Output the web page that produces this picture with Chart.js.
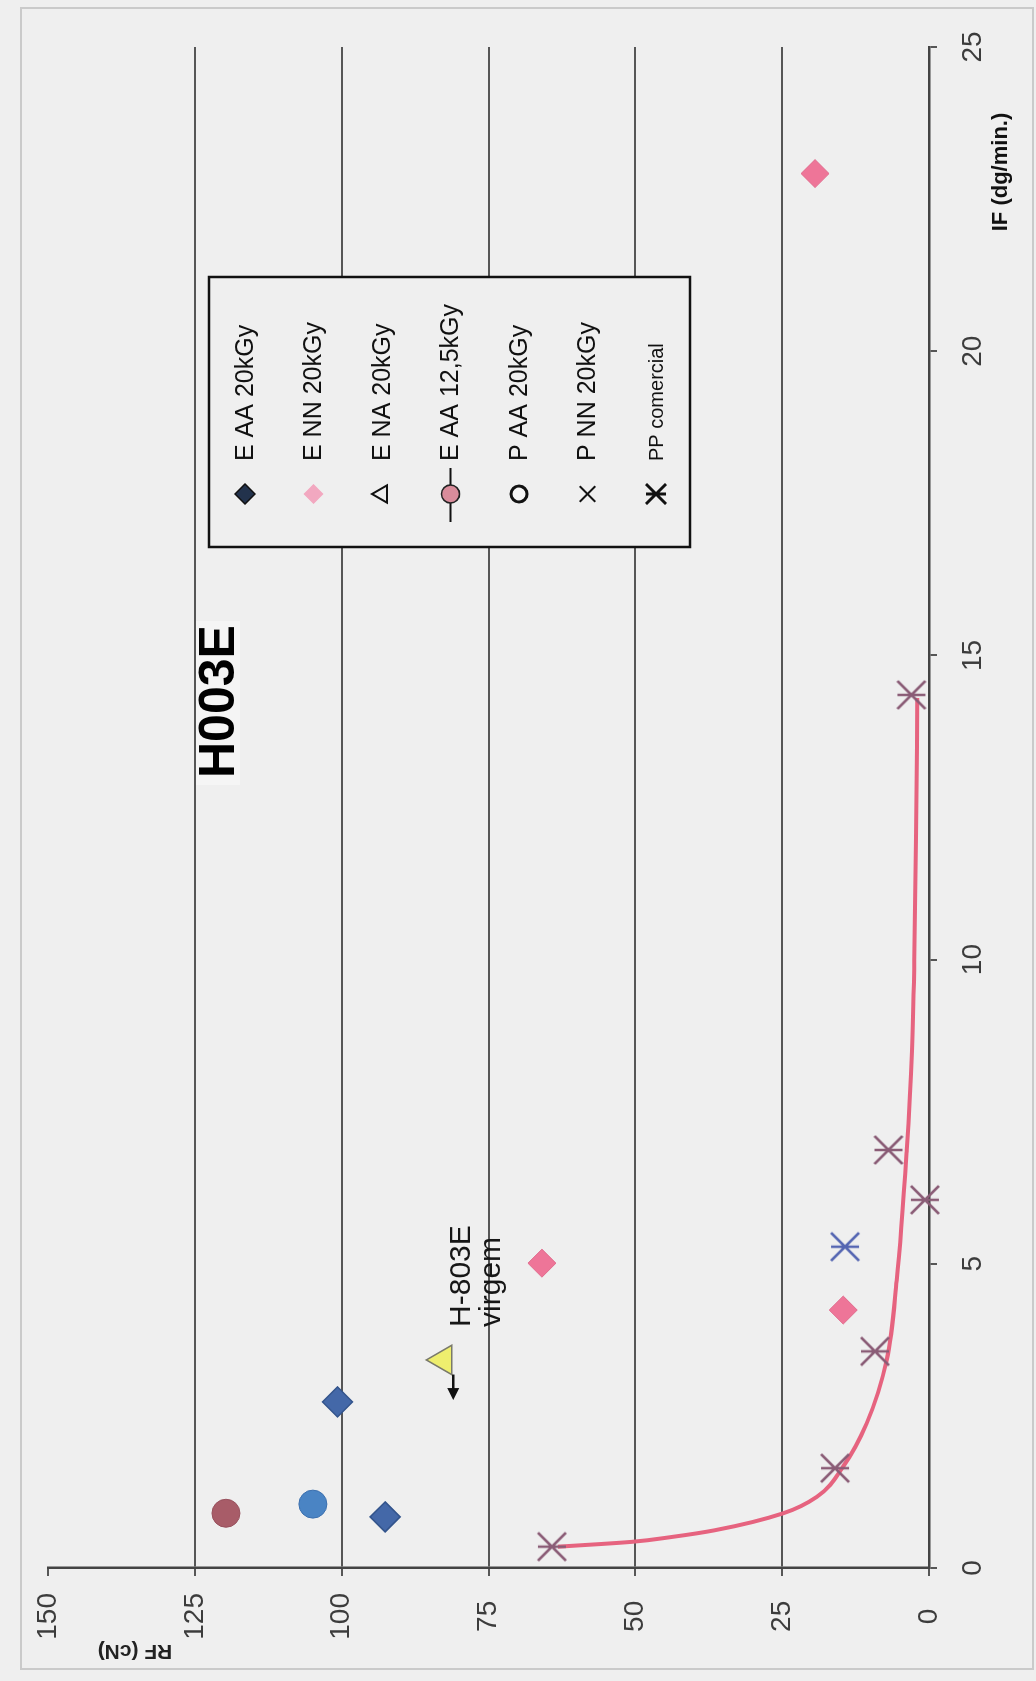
<!DOCTYPE html>
<html lang="pt">
<head>
<meta charset="utf-8">
<title>H003E</title>
<script src="https://cdn.jsdelivr.net/npm/chart.js@4.4.1/dist/chart.umd.min.js"></script>
<style>
  html, body { margin: 0; padding: 0; background: #efefef; width: 1036px; height: 1681px; overflow: hidden; }
  #moldura { position: absolute; left: 20px; top: 7px; width: 1014px; height: 1663px; border: 2px solid #cacaca; box-sizing: border-box; }
  /* o gráfico é desenhado deitado e girado 90° */
  #girado { position: absolute; left: 0; top: 0; width: 1681px; height: 1036px; transform-origin: 0 0; transform: translateY(1681px) rotate(-90deg); }
</style>
</head>
<body>
<div id="moldura"></div>
<div id="girado"><canvas id="grafico" width="1681" height="1036"></canvas></div>
<script>
// Eixos
const ifTicks = [0, 5, 10, 15, 20, 25];
const rfTicks = [0, 25, 50, 75, 100, 125, 150];

// E AA 20kGy
const eAA20_IF = [0.84, 2.73];
const eAA20_RF = [92.6, 100.7];
// E NN 20kGy
const eNN20_IF = [4.24, 5.01, 22.92];
const eNN20_RF = [14.6, 65.9, 19.4];
// E NA 20kGy (H-803E virgem)
const eNA20_IF = [3.42];
const eNA20_RF = [82.7];
// E AA 12,5kGy
const eAA125_IF = [0.90];
const eAA125_RF = [119.7];
// P AA 20kGy
const pAA20_IF = [1.05];
const pAA20_RF = [104.9];
// P NN 20kGy
const pNN20_IF = [5.28];
const pNN20_RF = [14.3];
// PP comercial
const ppCom_IF = [0.35, 1.64, 3.56, 6.05, 6.87, 14.35];
const ppCom_RF = [64.2, 16.0, 9.2, 0.7, 6.9, 3.0];
// curva de tendência do PP comercial
const tendIF = [0.35, 0.43, 0.51, 0.62, 0.90, 1.17, 1.67, 2.38, 3.42, 4.73, 6.87, 8.5, 10, 12, 14.3];
const tendRF = [63.2, 50.6, 43.8, 36.5, 24.8, 19.1, 14.6, 10.6, 7.2, 5.5, 3.8, 2.9, 2.5, 2.2, 2.0];
// seta da amostra virgem
const setaIF = [3.18, 2.76];
const setaRF = [81.0, 81.0];

const FONTE = "'Liberation Sans', Arial, sans-serif";
Chart.defaults.font.family = FONTE;

const pontos = (xs, ys) => xs.map((v, i) => ({ x: v, y: ys[i] }));

// marcador estrela (x com barra vertical)
function estrela(cor, tam, esp) {
    const c = document.createElement('canvas');
    c.width = tam + 6; c.height = tam + 6;
    const g = c.getContext('2d');
    const m = c.width / 2, r = tam / 2;
    g.strokeStyle = cor;
    g.lineWidth = esp;
    g.beginPath();
    g.moveTo(m - r, m - r); g.lineTo(m + r, m + r);
    g.moveTo(m + r, m - r); g.lineTo(m - r, m + r);
    g.moveTo(m, m - r); g.lineTo(m, m + r);
    g.stroke();
    return c;
}

// legenda dentro da área do gráfico
const legendaCaixa = {
    id: 'legendaCaixa',
    afterDatasetsDraw(chart) {
        const ctx = chart.ctx;
        const L = 1134, T = 209, W = 270, H = 481;
        ctx.save();
        ctx.fillStyle = '#efefef';
        ctx.fillRect(L, T, W, H);
        ctx.strokeStyle = '#111';
        ctx.lineWidth = 2.5;
        ctx.strokeRect(L, T, W, H);
        let i = 0;
        chart.data.datasets.forEach((ds) => {
            const lg = ds.legenda;
            if (!lg) return;
            const cy = T + 36 + i * 68.5;
            const cx = L + 53;
            if (lg.linha) {
                ctx.strokeStyle = '#111';
                ctx.lineWidth = 2;
                ctx.beginPath();
                ctx.moveTo(cx - 28, cy); ctx.lineTo(cx + 26, cy);
                ctx.stroke();
            }
            ctx.fillStyle = lg.fundo || '#111';
            ctx.strokeStyle = lg.borda || '#111';
            ctx.lineWidth = lg.espessura || 1.5;
            Chart.helpers.drawPoint(ctx, { pointStyle: lg.estilo, radius: lg.raio, rotation: 0, borderWidth: lg.espessura || 1.5 }, cx, cy);
            ctx.fillStyle = '#111';
            ctx.font = (lg.fonte || '25px') + ' ' + FONTE;
            ctx.textAlign = 'left';
            ctx.textBaseline = 'middle';
            ctx.fillText(ds.label, L + 86, cy + 1);
            i++;
        });
        ctx.restore();
    }
};

// textos: título, nomes dos eixos e anotação da amostra virgem
const textos = {
    id: 'textos',
    afterDraw(chart) {
        const ctx = chart.ctx;
        const sx = chart.scales.x, sy = chart.scales.y;
        ctx.save();

        // título
        ctx.fillStyle = '#f5f5f5';
        ctx.fillRect(896, 196, 164, 44);
        ctx.fillStyle = '#000';
        ctx.font = 'bold 50px ' + FONTE;
        ctx.textAlign = 'left';
        ctx.textBaseline = 'alphabetic';
        ctx.fillText('H003E', 903, 234);

        // eixo IF
        ctx.font = 'bold 22px ' + FONTE;
        ctx.textAlign = 'center';
        ctx.textBaseline = 'middle';
        ctx.fillStyle = '#111';
        ctx.fillText('IF (dg/min.)', 1509, 1001);

        // eixo RF
        ctx.save();
        ctx.translate(30, 135);
        ctx.rotate(-Math.PI / 2);
        ctx.font = 'bold 21px ' + FONTE;
        ctx.fillStyle = '#222';
        ctx.fillText('RF (cN)', 0, 0);
        ctx.restore();

        // seta e nome da amostra virgem
        const x0 = sx.getPixelForValue(setaIF[0]), y0 = sy.getPixelForValue(setaRF[0]);
        const x1 = sx.getPixelForValue(setaIF[1]), y1 = sy.getPixelForValue(setaRF[1]);
        ctx.strokeStyle = '#111';
        ctx.fillStyle = '#111';
        ctx.lineWidth = 2.5;
        ctx.beginPath();
        ctx.moveTo(x0, y0); ctx.lineTo(x1 + 8, y1);
        ctx.stroke();
        ctx.beginPath();
        ctx.moveTo(x1, y1); ctx.lineTo(x1 + 12, y1 - 6); ctx.lineTo(x1 + 12, y1 + 6);
        ctx.closePath();
        ctx.fill();

        const px = sx.getPixelForValue(eNA20_IF[0]), py = sy.getPixelForValue(eNA20_RF[0]);
        ctx.font = '30px ' + FONTE;
        ctx.textAlign = 'left';
        ctx.textBaseline = 'alphabetic';
        ctx.fillStyle = '#161616';
        ctx.fillText('H-803E', px + 33, py + 27);
        ctx.fillText('virgem', px + 33, py + 57);
        ctx.restore();
    }
};

const grade = '#565656';

const grafico = new Chart(document.getElementById('grafico').getContext('2d'), {
    type: 'scatter',
    data: {
        datasets: [
            {
                label: 'E AA 20kGy',
                data: pontos(eAA20_IF, eAA20_RF),
                pointStyle: 'rectRot', pointRadius: 15,
                backgroundColor: '#4468a8', borderColor: '#33548c', borderWidth: 1.5,
                legenda: { estilo: 'rectRot', raio: 10, fundo: '#22324c', borda: '#111' }
            },
            {
                label: 'E NN 20kGy',
                data: pontos(eNN20_IF, eNN20_RF),
                pointStyle: 'rectRot', pointRadius: 14,
                backgroundColor: '#ee7598', borderColor: '#e06a8c', borderWidth: 1,
                legenda: { estilo: 'rectRot', raio: 9, fundo: '#f2a8c0', borda: '#f2a8c0' }
            },
            {
                label: 'E NA 20kGy',
                data: pontos(eNA20_IF, eNA20_RF),
                pointStyle: 'triangle', pointRadius: 17,
                backgroundColor: '#eeee6e', borderColor: '#7a7a6a', borderWidth: 1.5,
                legenda: { estilo: 'triangle', raio: 10, fundo: '#efefef', borda: '#111', espessura: 2 }
            },
            {
                label: 'E AA 12,5kGy',
                data: pontos(eAA125_IF, eAA125_RF),
                pointStyle: 'circle', pointRadius: 14,
                backgroundColor: '#a85c68', borderColor: '#97505c', borderWidth: 1,
                legenda: { estilo: 'circle', raio: 9, fundo: '#d98c9b', borda: '#222', linha: true }
            },
            {
                label: 'P AA 20kGy',
                data: pontos(pAA20_IF, pAA20_RF),
                pointStyle: 'circle', pointRadius: 14,
                backgroundColor: '#4a84c4', borderColor: '#3b6fae', borderWidth: 1,
                legenda: { estilo: 'circle', raio: 8, fundo: '#f5f5f5', borda: '#111', espessura: 3 }
            },
            {
                label: 'P NN 20kGy',
                data: pontos(pNN20_IF, pNN20_RF),
                pointStyle: estrela('#5566b2', 28, 2.5), pointRadius: 15,
                legenda: { estilo: 'crossRot', raio: 11, borda: '#111', espessura: 2 }
            },
            {
                label: 'PP comercial',
                data: pontos(ppCom_IF, ppCom_RF),
                pointStyle: estrela('#8a5c76', 28, 2.5), pointRadius: 15,
                legenda: { estilo: estrela('#111', 20, 3), raio: 10, fonte: '20px' }
            },
            {
                label: 'tendência',
                data: pontos(tendIF, tendRF),
                showLine: true,
                cubicInterpolationMode: 'monotone',
                borderColor: '#e6637f', borderWidth: 4,
                pointRadius: 0,
                order: 10
            }
        ]
    },
    options: {
        responsive: false,
        animation: false,
        clip: false,
        layout: { padding: { top: 48, right: 47, left: 0, bottom: 0 } },
        plugins: {
            legend: { display: false },
            tooltip: { enabled: false }
        },
        datasets: { scatter: { clip: false } },
        scales: {
            x: {
                type: 'linear', min: ifTicks[0], max: ifTicks[ifTicks.length - 1],
                afterBuildTicks: (s) => { s.ticks = ifTicks.map(v => ({ value: v })); },
                afterFit: (s) => { s.height = 107; },
                ticks: { color: '#3c3c3c', padding: 19, font: { size: 28 } },
                grid: { drawOnChartArea: false, drawTicks: true, tickLength: 8, color: grade, lineWidth: 2 },
                border: { display: true, color: '#444', width: 2.5 }
            },
            y: {
                type: 'linear', min: rfTicks[0], max: rfTicks[rfTicks.length - 1],
                afterBuildTicks: (s) => { s.ticks = rfTicks.map(v => ({ value: v })); },
                afterFit: (s) => { s.width = 113; },
                ticks: { color: '#3c3c3c', padding: 17, crossAlign: 'center', font: { size: 28 } },
                grid: {
                    color: (c) => (c.tick && c.tick.value === 150) ? 'rgba(0,0,0,0)' : grade,
                    tickColor: grade, tickLength: 8, lineWidth: 2
                },
                border: { display: true, color: '#444', width: 2.5 }
            }
        }
    },
    plugins: [legendaCaixa, textos]
});
</script>
</body>
</html>
